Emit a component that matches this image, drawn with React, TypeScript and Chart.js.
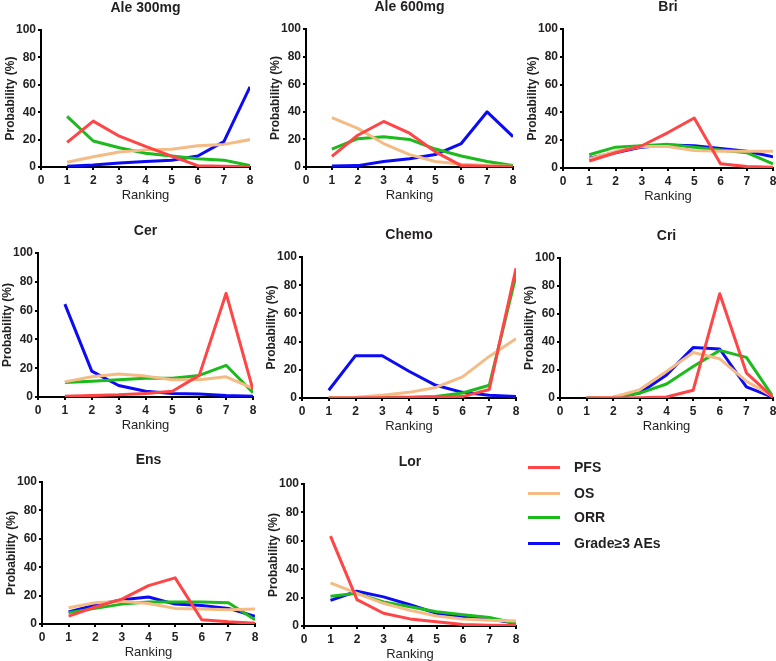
import React, { useEffect, useRef } from "react";
import { Chart, registerables } from "chart.js";

Chart.register(...registerables);

// ---------- data ----------
const rankings = [1, 2, 3, 4, 5, 6, 7, 8];
const seriesNames = ["PFS", "OS", "ORR", "Grade≥3 AEs"];
const seriesColors = ["#FF4545", "#F5BB85", "#1DBA1D", "#0B0BF5"];
const panelTitles = ["Ale 300mg", "Ale 600mg", "Bri", "Cer", "Chemo", "Cri", "Ens", "Lor"];

// Ale 300mg
const ale300PFS = [18, 33.5, 22.5, 15, 8, 1, 0.5, 0.2];
const ale300OS = [3.5, 7.5, 11, 12.5, 13, 15.5, 16.5, 20];
const ale300ORR = [37, 19, 14, 10, 8, 6, 5, 1];
const ale300AE = [0.5, 1.5, 3, 4, 5, 8, 18.5, 58.5];

// Ale 600mg
const ale600PFS = [7.7, 23, 33, 24.5, 11, 1, 0.5, 0.3];
const ale600OS = [35.7, 28, 17, 9, 4, 2, 1, 0.5];
const ale600ORR = [13, 20.5, 22, 20, 13, 8, 4, 1];
const ale600AE = [0.7, 1, 4, 6, 9, 17, 40, 22];

// Bri
const briPFS = [5, 11, 16, 25.5, 36, 3, 1, 0.5];
const briOS = [6.5, 12, 15.5, 15.5, 12.5, 12, 12, 12];
const briORR = [9.5, 15, 16, 17, 15, 13, 11, 3];
const briAE = [7, 11, 15, 16.5, 16, 14, 12, 8];

// Cer
const cerPFS = [0.5, 1, 1.5, 2.5, 4, 15, 72, 5];
const cerOS = [10.5, 14, 16, 14.5, 12, 12, 14, 6];
const cerORR = [10, 11, 12, 13, 13, 15, 22, 3];
const cerAE = [64.5, 18, 8, 4, 2.5, 2, 1, 0.5];

// Chemo
const chemoPFS = [0, 0, 0.2, 0.3, 0.5, 1, 6, 92];
const chemoOS = [0.2, 0.5, 2, 4, 7.5, 15, 29.5, 42];
const chemoORR = [0, 0.2, 0.5, 0.5, 1, 3.5, 9, 87];
const chemoAE = [5.5, 30, 30, 19, 9, 4, 2, 1];

// Cri
const criPFS = [0, 0, 0.2, 0.7, 5.5, 74.5, 18, 0.5];
const criOS = [0, 0.5, 6, 19, 32.5, 28, 12, 1];
const criORR = [0, 0.5, 3.5, 10, 22.5, 34, 29, 1];
const criAE = [0, 0.3, 3.5, 16.5, 36, 35, 8, 0.5];

// Ens
const ensPFS = [5.6, 12, 17.5, 27, 32.5, 3, 1.5, 0.5];
const ensOS = [11.5, 15, 16, 14.5, 11, 10.5, 10, 10.5];
const ensORR = [8, 11, 14, 15.5, 15.5, 15.5, 15, 3];
const ensAE = [8.5, 13.5, 17, 19, 14, 13, 11, 5.5];

// Lor
const lorPFS = [63.3, 18.6, 9, 5, 3, 1, 0.5, 0.3];
const lorOS = [30.3, 23, 16, 11, 7, 5, 4, 3.5];
const lorORR = [21, 23, 17, 13.5, 10, 8, 6, 2];
const lorAE = [18, 24.5, 20.5, 15, 9, 6.5, 5, 2];

const panelSeries = [
  [ale300PFS, ale300OS, ale300ORR, ale300AE],
  [ale600PFS, ale600OS, ale600ORR, ale600AE],
  [briPFS, briOS, briORR, briAE],
  [cerPFS, cerOS, cerORR, cerAE],
  [chemoPFS, chemoOS, chemoORR, chemoAE],
  [criPFS, criOS, criORR, criAE],
  [ensPFS, ensOS, ensORR, ensAE],
  [lorPFS, lorOS, lorORR, lorAE],
];

// ---------- layout (plot-area boxes in page pixels) ----------
const boxes = [
  { left: 41, top: 30, right: 250, bottom: 167 },
  { left: 306, top: 29, right: 513, bottom: 167 },
  { left: 563, top: 29, right: 773, bottom: 168 },
  { left: 38, top: 253, right: 253, bottom: 397 },
  { left: 302, top: 257, right: 516, bottom: 398 },
  { left: 560, top: 258, right: 773, bottom: 398 },
  { left: 42, top: 482, right: 255, bottom: 624 },
  { left: 304, top: 484, right: 516, bottom: 626 },
];

const FONT = "'Liberation Sans', Arial, Helvetica, sans-serif";
const TEXT = "#231F20";
const Y_W = 40;
const TOP_H = 30;
const X_H = 36;
const RIGHT_PAD = 8;

function Panel({ title, series, box }: { title: string; series: number[][]; box: any }) {
  const ref = useRef<HTMLCanvasElement | null>(null);
  const W = box.right - box.left + Y_W + RIGHT_PAD;
  const H = box.bottom - box.top + TOP_H + X_H;

  useEffect(() => {
    if (!ref.current) return;
    const axisCommon = {
      grid: {
        display: true,
        drawOnChartArea: false,
        drawTicks: true,
        tickLength: 3,
        color: "#000",
        lineWidth: 2,
      },
      border: { display: true, color: "#000", width: 2 },
    };
    const chart = new Chart(ref.current, {
      type: "line",
      data: {
        datasets: series.map((vals, i) => ({
          label: seriesNames[i],
          data: rankings.map((r, j) => ({ x: r, y: vals[j] })),
          borderColor: seriesColors[i],
          backgroundColor: seriesColors[i],
          borderWidth: 3,
          pointRadius: 0,
          tension: 0,
          fill: false,
          borderJoinStyle: "round",
          borderCapStyle: "butt",
        })),
      },
      options: {
        responsive: false,
        animation: false,
        events: [],
        layout: { padding: { left: 0, right: RIGHT_PAD, top: 0, bottom: 0 } },
        plugins: {
          legend: { display: false },
          tooltip: { enabled: false },
          title: {
            display: true,
            text: title,
            fullSize: false,
            color: TEXT,
            font: { family: FONT, size: 14, weight: "bold", lineHeight: 1.2 },
            padding: { top: 0, bottom: TOP_H - 16.8 },
          },
        },
        scales: {
          x: {
            type: "linear",
            min: 0,
            max: 8,
            ...axisCommon,
            ticks: {
              stepSize: 1,
              autoSkip: false,
              maxRotation: 0,
              padding: 3,
              color: TEXT,
              font: { family: FONT, size: 12, weight: "bold" },
            },
            title: {
              display: true,
              text: "Ranking",
              color: TEXT,
              font: { family: FONT, size: 13, weight: "normal" },
              padding: 0,
            },
            afterFit: (s: any) => {
              s.height = X_H;
            },
          },
          y: {
            min: 0,
            max: 100,
            ...axisCommon,
            ticks: {
              stepSize: 20,
              padding: 2,
              color: TEXT,
              font: { family: FONT, size: 12, weight: "bold" },
            },
            title: {
              display: true,
              text: "Probability (%)",
              color: TEXT,
              font: { family: FONT, size: 12, weight: "bold" },
              padding: { top: 2, bottom: 0 },
            },
            afterFit: (s: any) => {
              s.width = Y_W;
            },
          },
        },
      } as any,
    });
    return () => chart.destroy();
  }, []);

  return (
    <div
      style={{
        position: "absolute",
        left: box.left - Y_W,
        top: box.top - TOP_H,
        width: W,
        height: H,
      }}
    >
      <canvas ref={ref} width={W} height={H} style={{ width: W, height: H, display: "block" }} />
    </div>
  );
}

const legendTops = [467, 493, 517, 543];

export default function App() {
  return (
    <div
      style={{
        position: "absolute",
        left: 0,
        top: 0,
        width: 776,
        height: 661,
        background: "#fff",
        overflow: "hidden",
      }}
    >
      {panelTitles.map((t, i) => (
        <Panel key={t} title={t} series={panelSeries[i]} box={boxes[i]} />
      ))}
      {seriesNames.map((name, i) => (
        <div key={name}>
          <div
            style={{
              position: "absolute",
              left: 528,
              top: legendTops[i] - 1.5,
              width: 32,
              height: 3,
              background: seriesColors[i],
            }}
          />
          <div
            style={{
              position: "absolute",
              left: 574,
              top: legendTops[i] - 9,
              height: 18,
              lineHeight: "18px",
              fontFamily: FONT,
              fontWeight: "bold",
              fontSize: 14,
              color: TEXT,
              whiteSpace: "nowrap",
            }}
          >
            {name}
          </div>
        </div>
      ))}
    </div>
  );
}
